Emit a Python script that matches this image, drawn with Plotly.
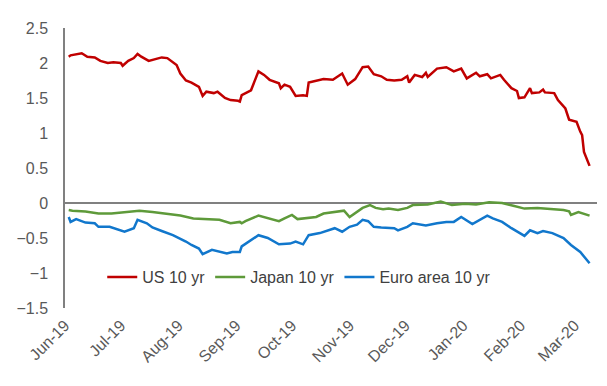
import plotly.graph_objects as go

us_dates = ["2019-06-03","2019-06-04","2019-06-10","2019-06-13","2019-06-17","2019-06-20","2019-06-24","2019-06-27",
            "2019-07-01","2019-07-02","2019-07-05","2019-07-08","2019-07-10","2019-07-12","2019-07-16","2019-07-19",
            "2019-07-23","2019-07-26","2019-07-31","2019-08-02","2019-08-05","2019-08-08","2019-08-12","2019-08-14",
            "2019-08-16","2019-08-20","2019-08-22","2019-08-26","2019-08-29","2019-09-02","2019-09-03","2019-09-04",
            "2019-09-09","2019-09-13","2019-09-16","2019-09-19","2019-09-24","2019-09-25","2019-09-27","2019-09-30",
            "2019-10-03","2019-10-07","2019-10-09","2019-10-10","2019-10-15","2019-10-18","2019-10-23","2019-10-28",
            "2019-10-31","2019-11-04","2019-11-08","2019-11-11","2019-11-14","2019-11-18","2019-11-21","2019-11-25",
            "2019-11-29","2019-12-02","2019-12-03","2019-12-06","2019-12-10","2019-12-12","2019-12-13","2019-12-18",
            "2019-12-23","2019-12-27","2019-12-31","2020-01-03","2020-01-08","2020-01-10","2020-01-14","2020-01-16",
            "2020-01-21","2020-01-23","2020-01-27","2020-01-30","2020-01-31","2020-02-03","2020-02-06","2020-02-07",
            "2020-02-11","2020-02-13","2020-02-14","2020-02-19","2020-02-21","2020-02-25","2020-02-27","2020-03-02",
            "2020-03-04","2020-03-05","2020-03-06","2020-03-09"]
us_10yr = [2.09,2.11,2.14,2.09,2.08,2.03,2.00,2.01,
           2.00,1.96,2.03,2.07,2.13,2.09,2.03,2.05,
           2.08,2.07,1.97,1.85,1.75,1.72,1.66,1.53,
           1.59,1.57,1.59,1.50,1.47,1.46,1.45,1.54,
           1.61,1.88,1.83,1.76,1.71,1.64,1.69,1.66,
           1.53,1.54,1.53,1.72,1.75,1.77,1.76,1.85,
           1.69,1.77,1.94,1.95,1.84,1.81,1.76,1.75,
           1.76,1.81,1.72,1.83,1.80,1.86,1.80,1.92,
           1.94,1.88,1.92,1.78,1.86,1.81,1.84,1.78,
           1.83,1.76,1.64,1.60,1.50,1.51,1.64,1.57,
           1.58,1.62,1.58,1.57,1.47,1.35,1.19,1.16,
           1.02,0.97,0.73,0.53]

jp_dates = ["2019-06-03","2019-06-05","2019-06-12","2019-06-19","2019-06-26","2019-07-05","2019-07-11","2019-07-18",
            "2019-07-25","2019-08-02","2019-08-09","2019-08-16","2019-08-23","2019-08-29","2019-09-03","2019-09-04",
            "2019-09-06","2019-09-13","2019-09-18","2019-09-24","2019-09-27","2019-10-01","2019-10-04","2019-10-08",
            "2019-10-14","2019-10-18","2019-10-24","2019-10-29","2019-11-01","2019-11-05","2019-11-08","2019-11-12",
            "2019-11-15","2019-11-19","2019-11-22","2019-11-27","2019-12-02","2019-12-05","2019-12-09","2019-12-13",
            "2019-12-20","2019-12-26","2020-01-02","2020-01-08","2020-01-15","2020-01-22","2020-01-28","2020-02-03",
            "2020-02-10","2020-02-17","2020-02-24","2020-02-27","2020-02-28","2020-03-03","2020-03-06","2020-03-09"]
japan_10yr = [-0.10,-0.11,-0.12,-0.15,-0.15,-0.13,-0.11,-0.13,
              -0.15,-0.18,-0.22,-0.23,-0.24,-0.29,-0.27,-0.29,
              -0.26,-0.18,-0.22,-0.26,-0.22,-0.17,-0.23,-0.22,
              -0.20,-0.15,-0.13,-0.11,-0.20,-0.12,-0.07,-0.03,
              -0.07,-0.09,-0.08,-0.10,-0.07,-0.03,-0.03,-0.02,
              0.02,-0.03,-0.01,-0.02,0.01,0.00,-0.04,-0.08,
              -0.07,-0.08,-0.10,-0.12,-0.17,-0.13,-0.16,-0.18]

eu_dates = ["2019-06-03","2019-06-04","2019-06-07","2019-06-12","2019-06-17","2019-06-19","2019-06-25","2019-06-28",
            "2019-07-03","2019-07-08","2019-07-10","2019-07-15","2019-07-18","2019-07-23","2019-07-29","2019-08-05",
            "2019-08-08","2019-08-12","2019-08-14","2019-08-19","2019-08-22","2019-08-27","2019-08-30","2019-09-03",
            "2019-09-04","2019-09-09","2019-09-13","2019-09-18","2019-09-24","2019-09-30","2019-10-03","2019-10-07",
            "2019-10-10","2019-10-16","2019-10-21","2019-10-24","2019-10-28","2019-11-01","2019-11-05","2019-11-08",
            "2019-11-11","2019-11-14","2019-11-18","2019-11-25","2019-11-27","2019-12-02","2019-12-05","2019-12-09",
            "2019-12-12","2019-12-18","2019-12-23","2019-12-27","2019-12-31","2020-01-06","2020-01-08","2020-01-14",
            "2020-01-17","2020-01-22","2020-01-27","2020-01-30","2020-02-03","2020-02-06","2020-02-10","2020-02-13",
            "2020-02-18","2020-02-24","2020-02-28","2020-03-04","2020-03-06","2020-03-09"]
euro_10yr = [-0.20,-0.27,-0.23,-0.28,-0.29,-0.34,-0.34,-0.37,
             -0.41,-0.36,-0.24,-0.29,-0.35,-0.40,-0.46,-0.55,
             -0.60,-0.65,-0.73,-0.67,-0.69,-0.72,-0.70,-0.70,
             -0.62,-0.53,-0.46,-0.50,-0.59,-0.58,-0.55,-0.59,
             -0.46,-0.43,-0.39,-0.36,-0.41,-0.34,-0.31,-0.24,
             -0.26,-0.34,-0.35,-0.36,-0.39,-0.34,-0.29,-0.31,
             -0.32,-0.29,-0.27,-0.27,-0.20,-0.30,-0.27,-0.18,
             -0.22,-0.27,-0.36,-0.41,-0.47,-0.39,-0.43,-0.40,
             -0.43,-0.50,-0.60,-0.70,-0.77,-0.86]

tick_dates = ["2019-06-01","2019-07-01","2019-08-01","2019-09-01","2019-10-01","2019-11-01",
              "2019-12-01","2020-01-01","2020-02-01","2020-03-01"]
tick_labels = ["Jun-19","Jul-19","Aug-19","Sep-19","Oct-19","Nov-19","Dec-19","Jan-20","Feb-20","Mar-20"]

FONT = "Arial, Liberation Sans, sans-serif"
fig = go.Figure()
fig.add_trace(go.Scatter(x=us_dates, y=us_10yr, mode="lines", name="US 10 yr",
                         line=dict(color="#C00000", width=2.5)))
fig.add_trace(go.Scatter(x=jp_dates, y=japan_10yr, mode="lines", name="Japan 10 yr",
                         line=dict(color="#5E9A3A", width=2.5)))
fig.add_trace(go.Scatter(x=eu_dates, y=euro_10yr, mode="lines", name="Euro area 10 yr",
                         line=dict(color="#1177CC", width=2.5)))

fig.update_layout(
    width=607, height=386,
    margin=dict(l=57, r=18, t=20, b=86),
    paper_bgcolor="white", plot_bgcolor="white",
    font=dict(family=FONT, size=16, color="#595959"),
    showlegend=True,
    legend=dict(orientation="h", x=0.07, y=0.11, xanchor="left", yanchor="middle",
                bgcolor="rgba(0,0,0,0)", font=dict(size=16, color="#404040"),
                itemwidth=30, tracegroupgap=0),
    xaxis=dict(type="date", range=["2019-06-01", "2020-03-13"], tickvals=tick_dates,
               ticktext=tick_labels, tickangle=-45, showgrid=False, showline=False,
               zeroline=False, ticks="", ticklabelstandoff=4, automargin=False,
               tickfont=dict(size=16, color="#595959")),
    yaxis=dict(range=[-1.5, 2.5], dtick=0.5, tick0=0, showgrid=False, showline=True,
               linecolor="#808080", linewidth=1.5, zeroline=True, zerolinecolor="#808080",
               zerolinewidth=1.5, ticks="", ticklabelstandoff=12, automargin=False,
               tickfont=dict(size=16, color="#595959")),
)

fig.write_html("out.html")
